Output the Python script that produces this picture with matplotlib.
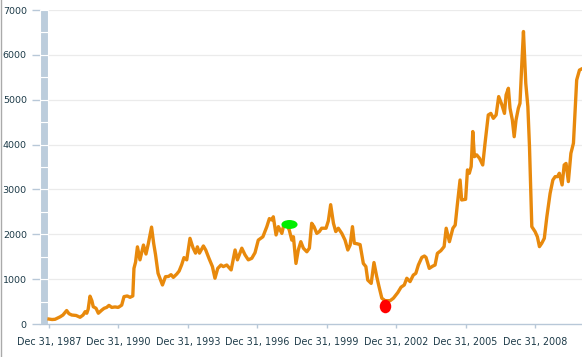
import numpy as np
import pandas as pd
import matplotlib
matplotlib.use("Agg")
import matplotlib.pyplot as plt
import matplotlib.transforms as mtransforms
from matplotlib.patches import Rectangle
from matplotlib.path import Path

# series: decimal year -> value
years = [1988.00, 1988.13, 1988.26, 1988.48, 1988.60, 1988.76, 1988.86, 1988.98, 1989.17, 1989.34,
         1989.47, 1989.56, 1989.63, 1989.69, 1989.77, 1989.85, 1989.91, 1990.03, 1990.13, 1990.28,
         1990.38, 1990.49, 1990.59, 1990.71, 1990.85, 1990.99, 1991.14, 1991.24, 1991.38, 1991.50,
         1991.62, 1991.67, 1991.74, 1991.82, 1991.93, 1992.08, 1992.19, 1992.29, 1992.43, 1992.52,
         1992.60, 1992.71, 1992.90, 1993.03, 1993.16, 1993.27, 1993.37, 1993.52, 1993.62, 1993.73,
         1993.83, 1993.95, 1994.09, 1994.22, 1994.33, 1994.41, 1994.50, 1994.67, 1994.77, 1994.91,
         1995.06, 1995.17, 1995.29, 1995.43, 1995.53, 1995.68, 1995.87, 1996.04, 1996.14, 1996.33,
         1996.47, 1996.61, 1996.76, 1996.90, 1997.04, 1997.24, 1997.41, 1997.52, 1997.62, 1997.69,
         1997.81, 1997.91, 1998.06, 1998.16, 1998.29, 1998.38, 1998.49, 1998.56, 1998.67, 1998.77,
         1998.88, 1998.99, 1999.14, 1999.25, 1999.35, 1999.45, 1999.57, 1999.68, 1999.78, 1999.97,
         2000.07, 2000.17, 2000.29, 2000.39, 2000.50, 2000.65, 2000.79, 2000.91, 2001.01, 2001.11,
         2001.19, 2001.30, 2001.44, 2001.58, 2001.69, 2001.77, 2001.92, 2002.04, 2002.16, 2002.26,
         2002.38, 2002.52, 2002.74, 2002.88, 2003.07, 2003.21, 2003.35, 2003.46, 2003.60, 2003.74,
         2003.85, 2003.96, 2004.11, 2004.22, 2004.29, 2004.43, 2004.58, 2004.68, 2004.78, 2004.93,
         2005.07, 2005.16, 2005.30, 2005.45, 2005.55, 2005.64, 2005.76, 2005.83, 2006.00, 2006.08,
         2006.16, 2006.24, 2006.31, 2006.38, 2006.48, 2006.60, 2006.74, 2006.84, 2006.98, 2007.09,
         2007.20, 2007.32, 2007.43, 2007.56, 2007.68, 2007.75, 2007.85, 2007.92, 2008.02, 2008.10,
         2008.18, 2008.28, 2008.35, 2008.43, 2008.50, 2008.60, 2008.69, 2008.76, 2008.86, 2009.00,
         2009.10, 2009.19, 2009.29, 2009.40, 2009.51, 2009.65, 2009.77, 2009.87, 2009.97, 2010.05,
         2010.17, 2010.26, 2010.34, 2010.44, 2010.55, 2010.66, 2010.80, 2010.92, 2010.99]
values = [110, 100, 105, 160, 200, 300, 230, 200, 190, 150,
          200, 275, 240, 330, 620, 520, 385, 350, 240, 310,
          350, 370, 415, 370, 380, 370, 420, 610, 625, 595,
          625, 1240, 1380, 1720, 1430, 1760, 1560, 1790, 2160, 1800,
          1550, 1130, 870, 1055, 1060, 1100, 1040, 1115, 1180, 1320,
          1480, 1430, 1910, 1700, 1580, 1720, 1580, 1740, 1650, 1465,
          1280, 1020, 1240, 1315, 1280, 1315, 1205, 1650, 1430, 1690,
          1540, 1430, 1465, 1590, 1870, 1945, 2170, 2350, 2320, 2390,
          1985, 2170, 2020, 2245, 2200, 2095, 1870, 1945, 1350, 1650,
          1835, 1690, 1610, 1690, 2245, 2170, 2020, 2060, 2135, 2135,
          2300, 2660, 2245, 2060, 2135, 2020, 1870, 1650, 1760, 2170,
          1800, 1790, 1770, 1350, 1280, 980, 905, 1370, 1055, 830,
          575, 520, 520, 575, 700, 820, 870, 1020, 945, 1090,
          1130, 1315, 1485, 1515, 1485, 1240, 1290, 1315, 1575, 1635,
          1725, 2135, 1835, 2135, 2205, 2650, 3210, 2765, 2780, 3435,
          3360, 3510, 4290, 3730, 3770, 3695, 3545, 4030, 4660, 4695,
          4585, 4660, 5070, 4900, 4695, 5105, 5255, 4810, 4550, 4175,
          4550, 4810, 4920, 5810, 6520, 5365, 4845, 3955, 2170, 2060,
          1945, 1725, 1800, 1910, 2390, 2910, 3210, 3285, 3285, 3360,
          3100, 3545, 3580, 3175, 3805, 4030, 5440, 5660, 5680]

# annotation markers
high_year, high_value = [1998.37], [2230]
low_year, low_value = [2002.52], [410]

tick_years = [1987, 1990, 1993, 1996, 1999, 2002, 2005, 2008]
y_ticks = [0, 1000, 2000, 3000, 4000, 5000, 6000, 7000]


def to_date(y):
    y = np.atleast_1d(y)
    out = []
    for v in y:
        yr = int(np.floor(v))
        start = pd.Timestamp(yr, 1, 1)
        out.append(start + (pd.Timestamp(yr + 1, 1, 1) - start) * (v - yr))
    return pd.DatetimeIndex(out)


W, H = 582, 357
fig = plt.figure(figsize=(W / 100, H / 100), dpi=100)
ax = fig.add_axes([40 / W, (H - 324) / H, 542 / W, 314 / H])

axis_col = "#b8c8d8"
text_col = "#1c3a48"

ax.plot(to_date(years), values, color="#e8890c", lw=2.4, solid_joinstyle="round", zorder=3)

ell_h = Path.unit_circle().transformed(mtransforms.Affine2D().scale(1.8, 1.0))
ell_v = Path.unit_circle().transformed(mtransforms.Affine2D().scale(0.85, 1.0))
ax.scatter(to_date(high_year), high_value, marker=ell_h, s=135, color="#00ee00", lw=0, zorder=4)
ax.scatter(to_date(low_year), low_value, marker=ell_v, s=95, color="#ff0000", lw=0, zorder=4)

ax.set_xlim(to_date(1987.61)[0], to_date(2011.03)[0])
ax.set_ylim(0, 7000)

# grid lines (not at zero)
for yv in y_ticks[1:]:
    ax.axhline(yv, xmin=8 / 542, xmax=1, color="#ebebeb", lw=0.9, zorder=1)

# segmented band on the left
trans = mtransforms.blended_transform_factory(ax.transAxes, ax.transData)
for lo in range(0, 7000, 500):
    ax.add_patch(Rectangle((0, lo), 8.3 / 542, 500, transform=trans, facecolor="#bccddc",
                           edgecolor="white", lw=0.8, zorder=2, clip_on=False))

for s in ["top", "right", "left"]:
    ax.spines[s].set_visible(False)
ax.spines["bottom"].set_color(axis_col)
ax.spines["bottom"].set_linewidth(1.0)

ax.set_yticks(y_ticks)
ax.set_yticklabels([str(v) for v in y_ticks])
ax.tick_params(axis="y", length=6, width=1, color=axis_col, pad=3.5, labelsize=6.8, labelcolor=text_col)

xt = [pd.Timestamp(y, 12, 31) for y in tick_years]
ax.set_xticks(xt)
ax.set_xticklabels([f"Dec 31, {y}" for y in tick_years])
ax.tick_params(axis="x", length=3, width=1, color=axis_col, pad=6.5, labelsize=6.9, labelcolor=text_col)

# thin frame line on the left edge of the figure
fig.add_artist(plt.Line2D([0.5 / W, 0.5 / W], [0, 1], color="#aaaaaa", lw=1))

fig.savefig("out.png", dpi=100, facecolor="white")
